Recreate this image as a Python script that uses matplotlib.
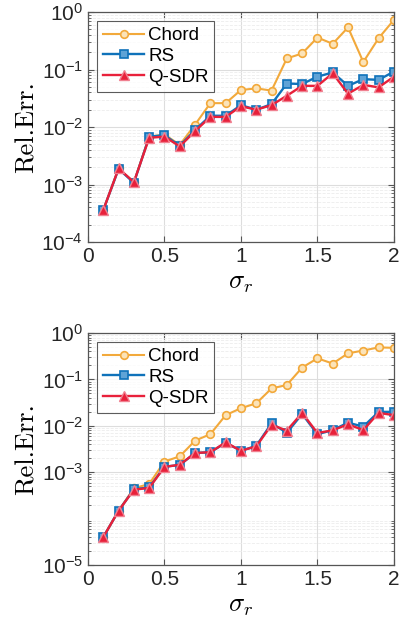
import matplotlib
matplotlib.use("Agg")
import matplotlib.pyplot as plt
import numpy as np
from matplotlib.ticker import LogLocator, NullFormatter

plt.rcParams['font.family'] = ['Liberation Sans', 'DejaVu Sans']
plt.rcParams['mathtext.fontset'] = 'cm'

sigma = [0.1, 0.2, 0.3, 0.4, 0.5, 0.6, 0.7, 0.8, 0.9, 1.0,
         1.1, 1.2, 1.3, 1.4, 1.5, 1.6, 1.7, 1.8, 1.9, 2.0]

chord_top = [3.6e-4, 1.9e-3, 1.1e-3, 6.8e-3, 7.4e-3, 4.9e-3, 1.1e-2, 2.6e-2, 2.6e-2, 4.4e-2,
             4.7e-2, 4.3e-2, 0.156, 0.19, 0.36, 0.28, 0.54, 0.135, 0.35, 0.73]
rs_top = [3.6e-4, 1.87e-3, 1.07e-3, 6.8e-3, 7.2e-3, 4.7e-3, 8.9e-3, 1.57e-2, 1.57e-2, 2.4e-2,
          2.0e-2, 2.5e-2, 5.7e-2, 5.6e-2, 7.5e-2, 8.9e-2, 5.2e-2, 6.8e-2, 6.6e-2, 9.2e-2]
qsdr_top = [3.6e-4, 1.9e-3, 1.1e-3, 6.5e-3, 6.8e-3, 4.6e-3, 8.5e-3, 1.5e-2, 1.5e-2, 2.3e-2,
            2.0e-2, 2.4e-2, 3.5e-2, 5.2e-2, 5.2e-2, 8.6e-2, 3.8e-2, 5.4e-2, 4.9e-2, 7.5e-2]

chord_bot = [4.0e-5, 1.48e-4, 4.5e-4, 5.6e-4, 1.7e-3, 2.2e-3, 4.8e-3, 6.6e-3, 1.7e-2, 2.4e-2,
             3.05e-2, 6.4e-2, 7.6e-2, 0.18, 0.285, 0.22, 0.365, 0.42, 0.49, 0.48]
rs_bot = [4.0e-5, 1.48e-4, 4.3e-4, 4.7e-4, 1.32e-3, 1.43e-3, 2.6e-3, 2.7e-3, 4.3e-3, 2.9e-3,
          3.7e-3, 1.13e-2, 7.1e-3, 1.8e-2, 6.6e-3, 8.1e-3, 1.17e-2, 9.6e-3, 2.0e-2, 2.0e-2]
qsdr_bot = [4.0e-5, 1.48e-4, 4.2e-4, 4.6e-4, 1.3e-3, 1.45e-3, 2.6e-3, 2.7e-3, 4.4e-3, 2.9e-3,
            3.6e-3, 1.05e-2, 7.9e-3, 1.9e-2, 7.0e-3, 8.0e-3, 1.08e-2, 8.1e-3, 1.9e-2, 1.7e-2]

labels = ['Chord', 'RS', 'Q-SDR']
c_chord = '#F2A93B'
c_rs = '#0F72BA'
c_qsdr = '#E8203A'

fig = plt.figure(figsize=(4.03, 6.26), dpi=100)
ax1 = fig.add_axes([0.2184, 0.6134, 0.759, 0.3674])
ax2 = fig.add_axes([0.2184, 0.0974, 0.759, 0.3706])

def draw(ax, ch, rs, qs, ylim, yticks):
    ax.plot(sigma, ch, '-o', color=c_chord, lw=1.5, ms=5.5, mfc='#FBE3B8', mec=c_chord, mew=1.2, label=labels[0])
    ax.plot(sigma, rs, '-s', color=c_rs, lw=1.7, ms=5.5, mfc='#5FA3D6', mec=c_rs, mew=1.2, label=labels[1])
    ax.plot(sigma, qs, '-^', color=c_qsdr, lw=1.7, ms=6.5, mfc=c_qsdr, mec='#F08090', mew=1.0, label=labels[2])
    ax.set_yscale('log')
    ax.set_xlim(0, 2)
    ax.set_ylim(*ylim)
    ax.set_xticks([0, 0.5, 1, 1.5, 2])
    ax.set_xticklabels(['0', '0.5', '1', '1.5', '2'])
    ax.set_yticks(yticks)
    ax.set_yticklabels([r'$\mathregular{10^{%d}}$' % int(np.log10(t)) for t in yticks])
    ax.yaxis.set_minor_locator(LogLocator(base=10, subs=np.arange(2, 10), numticks=20))
    ax.yaxis.set_minor_formatter(NullFormatter())
    ax.grid(True, which='major', color='#DDDDDD', lw=0.8)
    ax.grid(True, which='minor', color='#EDEDED', lw=0.6, ls='--')
    ax.set_axisbelow(True)
    for s in ax.spines.values():
        s.set_color('#555555')
        s.set_linewidth(0.9)
    ax.tick_params(axis='both', which='both', direction='in', colors='#555555', labelcolor='#262626', labelsize=15)
    ax.tick_params(axis='both', which='major', length=4)
    ax.tick_params(axis='y', which='minor', length=2)
    ax.tick_params(top=True, right=True, which='both')
    ax.set_xlabel(r'$\sigma_r$', fontsize=19, labelpad=4)
    ax.set_ylabel('Rel.Err.', fontsize=19, labelpad=2, fontfamily='cmr10')
    leg = ax.legend(loc='upper left', fontsize=13.5, frameon=True, fancybox=False,
                    edgecolor='#333333', handlelength=2.2, handletextpad=0.2,
                    borderpad=0.3, labelspacing=0.2, borderaxespad=0.5)
    leg.get_frame().set_linewidth(0.8)

draw(ax1, chord_top, rs_top, qsdr_top, (1e-4, 1e0), [1e-4, 1e-3, 1e-2, 1e-1, 1e0])
draw(ax2, chord_bot, rs_bot, qsdr_bot, (1e-5, 1e0), [1e-5, 1e-3, 1e-2, 1e-1, 1e0])

fig.savefig('out.png', dpi=100)
